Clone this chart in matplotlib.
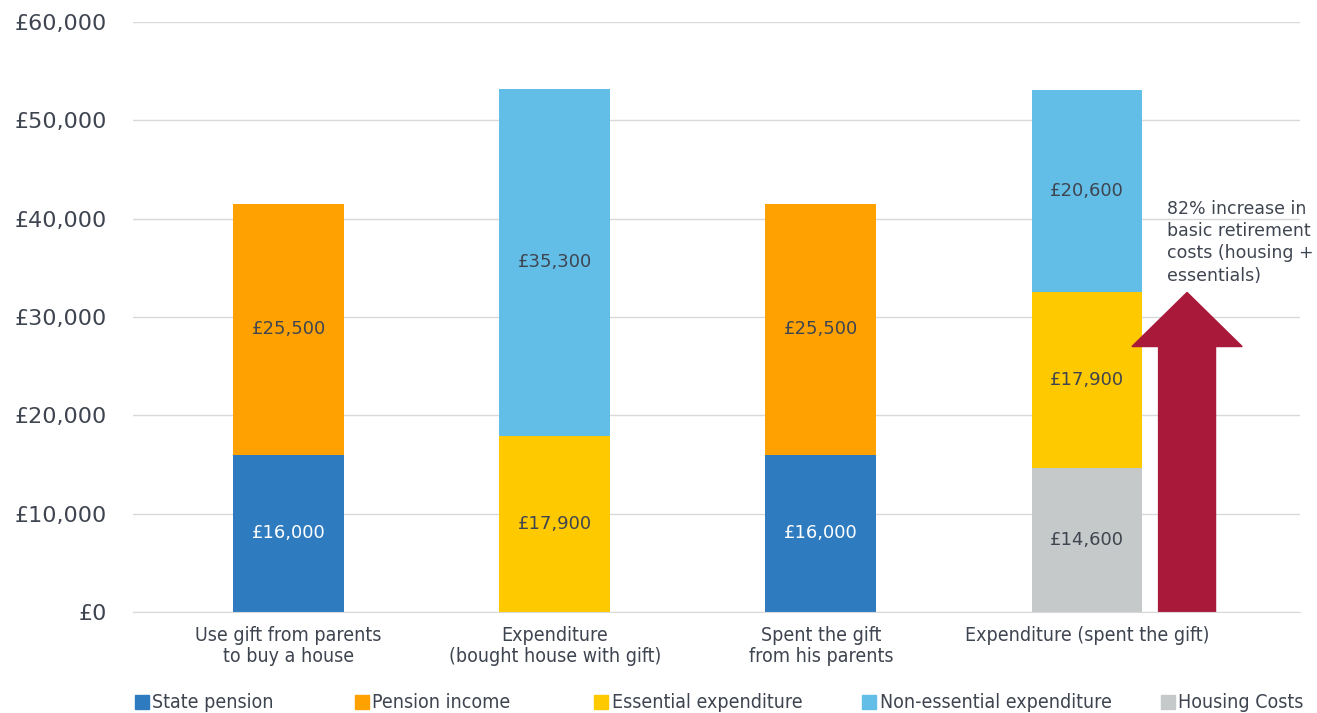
import matplotlib.pyplot as plt
import matplotlib.patches as mpatches
import numpy as np

categories = ["Use gift from parents\nto buy a house",
              "Expenditure\n(bought house with gift)",
              "Spent the gift\nfrom his parents",
              "Expenditure (spent the gift)"]
series_names = ["State pension", "Pension income", "Essential expenditure",
                "Non-essential expenditure", "Housing Costs"]
state_pension = [16000, 0, 16000, 0]
pension_income = [25500, 0, 25500, 0]
housing_costs = [0, 0, 0, 14600]
essential = [0, 17900, 0, 17900]
non_essential = [0, 35300, 0, 20600]
yticks = [0, 10000, 20000, 30000, 40000, 50000, 60000]
note = "82% increase in\nbasic retirement\ncosts (housing +\nessentials)"

colors = {
    "State pension": "#2E7BC0",
    "Pension income": "#FFA100",
    "Essential expenditure": "#FFC900",
    "Non-essential expenditure": "#62BEE7",
    "Housing Costs": "#C6C9CA",
}
text_col = "#3F4550"

fig = plt.figure(figsize=(13.17, 7.13), dpi=100)
ax = fig.add_axes([0.101, 0.1417, 0.886, 0.8273])

x = np.arange(len(categories))
width = 0.417

# stacking order bottom -> top
stack = [("State pension", state_pension),
         ("Housing Costs", housing_costs),
         ("Essential expenditure", essential),
         ("Pension income", pension_income),
         ("Non-essential expenditure", non_essential)]

bottom = np.zeros(len(categories))
for name, vals in stack:
    vals = np.array(vals, dtype=float)
    ax.bar(x, vals, width, bottom=bottom, color=colors[name], zorder=2)
    for xi, v, b in zip(x, vals, bottom):
        if v > 0:
            c = "white" if name == "State pension" else text_col
            ax.text(xi, b + v / 2, f"£{int(v):,}", ha="center", va="center",
                    fontsize=13, color=c, zorder=3)
    bottom += vals

# arrow for the increase in basic costs
basic = housing_costs[3] + essential[3]
ax.arrow(3.376, 0, 0, basic, width=0.214, head_width=0.414,
         head_length=5500, length_includes_head=True,
         color="#A9193A", zorder=2)
ax.text(3.30, 41900, note, ha="left", va="top", fontsize=12.5,
        color=text_col, linespacing=1.3)

ax.set_xlim(-0.585, 3.80)
ax.set_ylim(0, 60000)
ax.set_yticks(yticks)
ax.set_yticklabels([f"£{v:,}" for v in yticks], fontsize=16, color=text_col)
ax.set_xticks(x)
ax.set_xticklabels(categories, fontsize=14, color=text_col,
                   fontstretch="condensed", linespacing=1.15)
ax.tick_params(axis="both", length=0)
ax.tick_params(axis="y", pad=19)
ax.tick_params(axis="x", pad=10)
ax.grid(axis="y", color="#D9D9D9", linewidth=1, zorder=0)
for s in ["top", "right", "left"]:
    ax.spines[s].set_visible(False)
ax.spines["bottom"].set_color("#D9D9D9")

# legend entries placed one by one, as in the reference
legend_x = [135, 355, 594, 862, 1161]
for name, lx in zip(series_names, legend_x):
    h = mpatches.Patch(color=colors[name], label=name)
    fig.legend(handles=[h], loc="center left",
               bbox_to_anchor=(lx / 1317, 1 - 703 / 713),
               frameon=False, handlelength=0.7, handleheight=0.7,
               handletextpad=0.2, borderpad=0, borderaxespad=0,
               prop={"size": 14, "stretch": "condensed"},
               labelcolor=text_col)

fig.savefig("out.png", dpi=100)
